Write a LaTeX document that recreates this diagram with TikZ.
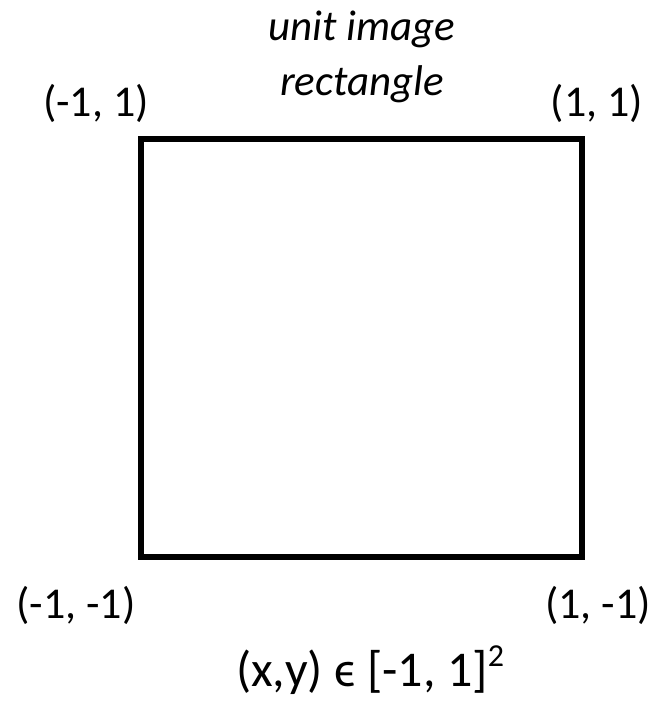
\documentclass[tikz,border=0pt]{standalone}
\usepackage{fontspec}
\setmainfont{Carlito}
\usetikzlibrary{positioning}

\tikzset{
    corner/.style={inner sep=0pt},
    caption/.style={inner sep=0pt, align=center}
}

\begin{document}
\begin{tikzpicture}[x=1pt, y=1pt, font=\fontsize{44}{55}\selectfont]
    \useasboundingbox (0,0) rectangle (664,702);
    \coordinate (sw) at (141,145);
    \coordinate (ne) at (582,563);
    \draw[line width=5.5pt] (sw) rectangle (ne);

    \node[corner] (tl) at (96,599) {(-1, 1)};
    \node[corner] (tr) at (597,599) {(1, 1)};
    \node[corner] (bl) at (76,97) {(-1, -1)};
    \node[corner] (br) at (598,97) {(1, -1)};

    \node[caption, font=\fontsize{43}{55}\selectfont\itshape] (title) at (362,645) {unit image\\rectangle};
    \node[caption, anchor=base, font=\fontsize{50}{60}\selectfont] (domain) at (370,16) {(x,y) ϵ [-1, 1]\raisebox{0.4em}{\fontsize{32}{40}\selectfont 2}};
\end{tikzpicture}
\end{document}
